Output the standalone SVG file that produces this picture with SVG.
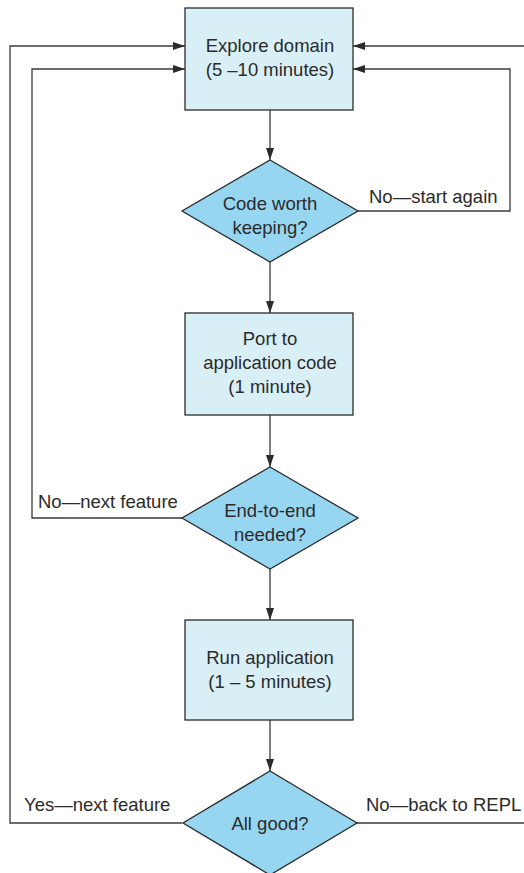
<svg xmlns="http://www.w3.org/2000/svg" width="524" height="873" viewBox="0 0 524 873">
<defs>
<style>
.box{fill:#d9eff6;stroke:#2b2b2b;stroke-width:1.3}
.dia{fill:#97d6f1;stroke:#2b2b2b;stroke-width:1.3}
.ln{fill:none;stroke:#3a3a3a;stroke-width:1.3}
text{font-family:"Liberation Sans",Arial,sans-serif;font-size:18.5px;fill:#2b2b2b}
.c{text-anchor:middle}
</style>
<marker id="ah" markerWidth="12" markerHeight="8" refX="12" refY="4" orient="auto" markerUnits="userSpaceOnUse">
<path d="M0,0 L12,4 L0,8 Z" fill="#2b2b2b"/>
</marker>
</defs>
<rect width="524" height="873" fill="#ffffff"/>
<g id="connectors">
<path class="ln" d="M270,110 V160" marker-end="url(#ah)"/>
<path class="ln" d="M270,262 V313" marker-end="url(#ah)"/>
<path class="ln" d="M270,415 V467" marker-end="url(#ah)"/>
<path class="ln" d="M270,569 V620" marker-end="url(#ah)"/>
<path class="ln" d="M270,720 V771" marker-end="url(#ah)"/>
<path class="ln" d="M358,211 H510 V69 H353" marker-end="url(#ah)"/>
<path class="ln" d="M182,518 H32 V69 H185" marker-end="url(#ah)"/>
<path class="ln" d="M182,823 H10 V46 H185" marker-end="url(#ah)"/>
<path class="ln" d="M357,823 H530 V46 H353" marker-end="url(#ah)"/>
<text x="369" y="203">No—start again</text>
<text x="38" y="508">No—next feature</text>
<text x="24" y="811">Yes—next feature</text>
<text x="366" y="811">No—back to REPL</text>
</g>
<g id="explore">
<rect class="box" x="185" y="8" width="168" height="102"/>
<text class="c" x="270" y="52">Explore domain</text>
<text class="c" x="270" y="76">(5 –10 minutes)</text>
</g>
<g id="worth">
<path class="dia" d="M270,160 L358,211 L270,262 L182,211 Z"/>
<text class="c" x="270" y="210">Code worth</text>
<text class="c" x="270" y="234">keeping?</text>
</g>
<g id="port">
<rect class="box" x="185" y="313" width="168" height="102"/>
<text class="c" x="270" y="345">Port to</text>
<text class="c" x="270" y="369">application code</text>
<text class="c" x="270" y="393">(1 minute)</text>
</g>
<g id="e2e">
<path class="dia" d="M270,467 L358,518 L270,569 L182,518 Z"/>
<text class="c" x="270" y="517">End-to-end</text>
<text class="c" x="270" y="541">needed?</text>
</g>
<g id="run">
<rect class="box" x="185" y="620" width="168" height="100"/>
<text class="c" x="270" y="664">Run application</text>
<text class="c" x="270" y="688">(1 – 5 minutes)</text>
</g>
<g id="allgood">
<path class="dia" d="M270,771 L357,823 L270,875 L183,823 Z"/>
<text class="c" x="270" y="830">All good?</text>
</g>
</svg>
